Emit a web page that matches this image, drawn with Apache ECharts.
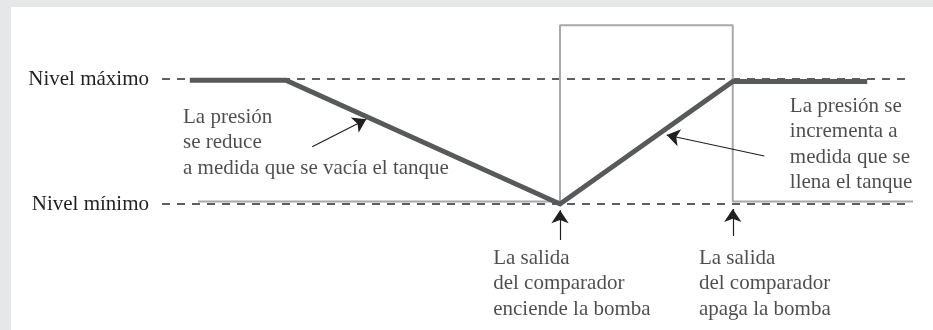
<!DOCTYPE html>
<html>
<head>
<meta charset="utf-8">
<script src="https://cdn.jsdelivr.net/npm/echarts@6/dist/echarts.min.js"></script>
<style>
  html, body { margin: 0; padding: 0; }
  #chart {
    width: 933px; height: 330px;
    background: linear-gradient(#fff, #fff) 11px 7px / 922px 323px no-repeat, #e6e7e9;
  }
</style>
</head>
<body>
<div id="chart"></div>
<script>
// Tiempo (unidades arbitrarias) y nivel de presión (0 = mínimo, 1 = máximo)
var pressureT = [3.7, 16.5, 53.0, 76.0, 93.9];
var pressureLevel = [0.99, 0.99, 0.0, 0.98, 0.98];

// Salida del comparador (escalón)
var compT = [4.8, 53.0, 53.0, 76.0, 76.0, 100];
var compLevel = [0.02, 0.02, 1.43, 1.43, 0.02, 0.02];

// Líneas de referencia
var refLevels = [1, 0];
var refRange = [0, 99.3];
var levelNames = { '1': 'Nivel máximo', '0': 'Nivel mínimo' };

// Flechas de anotación: origen -> punta
var arrowFrom = [[20.0, 0.458], [80.2, 0.384], [53.0, -0.288], [76.0, -0.256]];
var arrowTo = [[27.2, 0.678], [67.2, 0.552], [53.0, -0.05], [76.0, -0.04]];

// Textos de anotación (esquina izquierda, centro vertical)
var noteText = [
  'La presión\nse reduce\na medida que se vacía el tanque',
  'La presión se\nincrementa a\nmedida que se\nllena el tanque',
  'La salida\ndel comparador\nenciende la bomba',
  'La salida\ndel comparador\napaga la bomba'
];
var notePos = [[2.8, 0.492], [83.6, 0.476], [44.1, -0.636], [71.5, -0.636]];

var FONT = '"Liberation Serif", "DejaVu Serif", serif';
var INK = '#231f20';

function pairs(xs, ys) {
  return xs.map(function(x, i) { return [x, ys[i]]; });
}

var chart = echarts.init(document.getElementById('chart'));

var series = [];

// Dashed reference lines
refLevels.forEach(function(lv) {
  series.push({
    type: 'line', silent: true, symbol: 'none', animation: false,
    data: [[refRange[0], lv], [refRange[1], lv]],
    lineStyle: { color: '#2b2b2b', width: 1.3, type: [8, 7] },
    z: 1
  });
});

// Comparator output
series.push({
  type: 'line', silent: true, symbol: 'none', animation: false,
  data: pairs(compT, compLevel),
  lineStyle: { color: '#a7a9ac', width: 2 },
  z: 2
});

// Pressure
series.push({
  type: 'line', silent: true, symbol: 'none', animation: false,
  data: pairs(pressureT, pressureLevel),
  lineStyle: { color: '#58595b', width: 5, join: 'miter' },
  z: 3
});

// Arrows
series.push({
  type: 'lines', coordinateSystem: 'cartesian2d', silent: true, animation: false,
  symbol: ['none', 'arrow'], symbolSize: 13,
  data: arrowFrom.map(function(p, i) { return { coords: [p, arrowTo[i]] }; }),
  lineStyle: { color: INK, width: 1.2, opacity: 1 },
  z: 4
});

// Text notes
series.push({
  type: 'scatter', silent: true, animation: false, symbolSize: 0, clip: false,
  data: notePos.map(function(p, i) { return { value: p, name: noteText[i] }; }),
  label: {
    show: true, position: 'right', distance: 0, formatter: '{b}',
    color: INK, fontFamily: FONT, fontSize: 21, lineHeight: 25.5, align: 'left'
  },
  z: 5
});

chart.setOption({
  animation: false,
  grid: { left: 162, right: 20, top: 16.5, bottom: 1, containLabel: false },
  xAxis: {
    type: 'value', min: 0, max: 100, show: false
  },
  yAxis: {
    type: 'value', min: -1, max: 1.5, interval: 0.5,
    axisLine: { show: false }, axisTick: { show: false }, splitLine: { show: false },
    axisLabel: {
      margin: 13, color: INK, fontFamily: FONT, fontSize: 21,
      formatter: function(v) { return levelNames[String(v)] || ''; }
    }
  },
  series: series
});
</script>
</body>
</html>
